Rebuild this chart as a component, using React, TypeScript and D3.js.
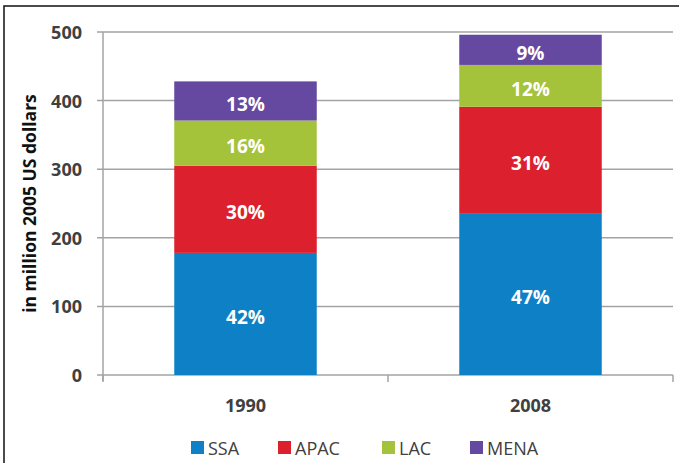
import React from "react";
import * as d3 from "d3";

const years = ["1990", "2008"];
const regions = ["SSA", "APAC", "LAC", "MENA"];
const ssaValues = [178, 236];
const apacValues = [127, 155];
const lacValues = [66, 61];
const menaValues = [57, 44];
const ssaLabels = ["42%", "47%"];
const apacLabels = ["30%", "31%"];
const lacLabels = ["16%", "12%"];
const menaLabels = ["13%", "9%"];
const yTicks = [0, 100, 200, 300, 400, 500];
const colors = ["#0E81C6", "#DC202E", "#A5C23B", "#6548A0"];

const W = 679;
const H = 463;
const plot = { left: 103, right: 673, top: 32, bottom: 375 };

export default function App() {
  const rows = years.map((y, i) => ({
    year: y,
    SSA: ssaValues[i],
    APAC: apacValues[i],
    LAC: lacValues[i],
    MENA: menaValues[i],
  }));
  const labels: Record<string, string[]> = {
    SSA: ssaLabels,
    APAC: apacLabels,
    LAC: lacLabels,
    MENA: menaLabels,
  };
  const x = d3
    .scaleBand<string>()
    .domain(years)
    .range([plot.left, plot.right])
    .paddingInner(0.5)
    .paddingOuter(0.25);
  const y = d3.scaleLinear().domain([0, 500]).range([plot.bottom, plot.top]);
  const series = d3.stack<any>().keys(regions)(rows as any);
  const color = d3.scaleOrdinal<string, string>().domain(regions).range(colors);
  const grid = "#A3A3A3";
  const font = "'Open Sans', 'Liberation Sans', Arial, sans-serif";
  const step = x.step();
  const catTicks = [plot.left, plot.left + step, plot.right];
  const legendX = [191, 278, 382, 470];

  return (
    <svg
      width={W}
      height={H}
      style={{ position: "fixed", left: 0, top: 0, background: "#fff" }}
      fontFamily={font}
    >
      <rect x={0} y={0} width={W} height={H} fill="#fff" />
      <rect x={4} y={6} width={W + 20} height={H + 20} fill="none" stroke="#111" strokeWidth={1.5} />
      {yTicks.map((t) => (
        <g key={t}>
          {t > 0 && (
            <line x1={plot.left - 6} x2={plot.right} y1={y(t)} y2={y(t)} stroke={grid} strokeWidth={1.5} />
          )}
          <text
            x={82}
            y={y(t)}
            textAnchor="end"
            dominantBaseline="central"
            fontSize={18}
            fontWeight={700}
            fill="#404040"
          >
            {t}
          </text>
        </g>
      ))}
      <line x1={plot.left} x2={plot.left} y1={plot.top} y2={plot.bottom + 6} stroke={grid} strokeWidth={1.5} />
      <line x1={plot.left - 6} x2={plot.right} y1={plot.bottom} y2={plot.bottom} stroke={grid} strokeWidth={1.5} />
      {catTicks.map((cx, i) => (
        <line key={i} x1={cx} x2={cx} y1={plot.bottom} y2={plot.bottom + 7} stroke={grid} strokeWidth={1.5} />
      ))}
      {series.map((s) =>
        s.map((d, i) => {
          const y0 = y(d[0]);
          const y1 = y(d[1]);
          const bx = x(years[i])!;
          return (
            <g key={s.key + i}>
              <rect x={bx} y={y1} width={x.bandwidth()} height={y0 - y1} fill={color(s.key)} />
              <text
                x={bx + x.bandwidth() / 2}
                y={(y0 + y1) / 2 + 3}
                textAnchor="middle"
                dominantBaseline="central"
                fontSize={19}
                fontWeight={700}
                fill="#fff"
              >
                {labels[s.key][i]}
              </text>
            </g>
          );
        })
      )}
      {years.map((yr) => (
        <text
          key={yr}
          x={x(yr)! + x.bandwidth() / 2}
          y={405}
          textAnchor="middle"
          dominantBaseline="central"
          fontSize={18}
          fontWeight={700}
          fill="#404040"
        >
          {yr}
        </text>
      ))}
      <text
        transform={`translate(29,${(plot.top + plot.bottom) / 2}) rotate(-90)`}
        textAnchor="middle"
        dominantBaseline="central"
        fontSize={17.5}
        fontWeight={700}
        fill="#111"
      >
        in million 2005 US dollars
      </text>
      {regions.map((r, i) => (
        <g key={r}>
          <rect x={legendX[i]} y={441} width={13} height={13} fill={color(r)} />
          <text
            x={legendX[i] + 17}
            y={448}
            dominantBaseline="central"
            fontSize={18}
            fill="#404040"
          >
            {r}
          </text>
        </g>
      ))}
    </svg>
  );
}
